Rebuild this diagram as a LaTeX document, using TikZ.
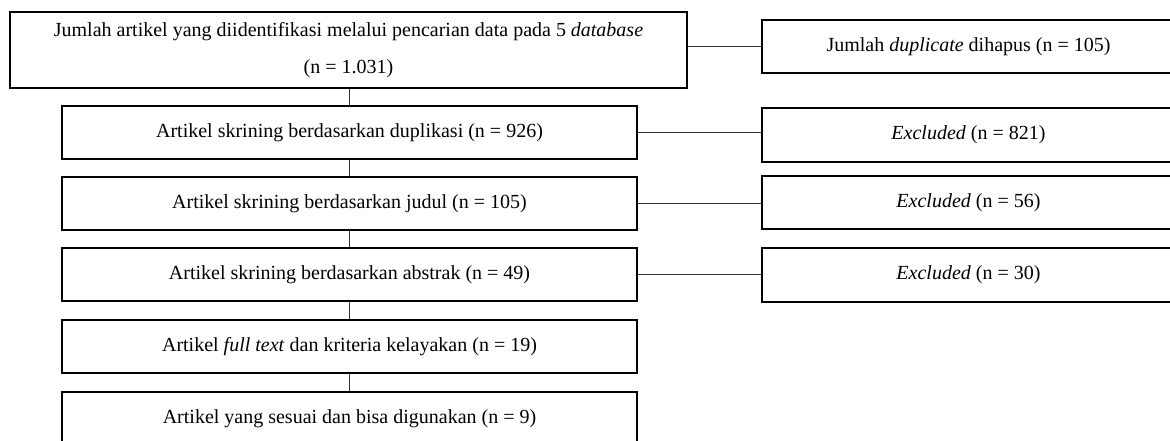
\documentclass[tikz,border=0pt]{standalone}
\usepackage{fontspec}
\setmainfont{Liberation Serif}
\begin{document}
\begin{tikzpicture}[x=0.75pt,y=-0.75pt,
  box/.style={draw=black,line width=1.6pt,rectangle,inner sep=0pt,
    font=\fontsize{15}{18}\selectfont,align=center},
  mainbox/.style={box,minimum width=431.25pt,minimum height=39.75pt},
  sidebox/.style={box,minimum width=309.75pt,minimum height=40pt},
  link/.style={draw=black!80,line width=0.8pt}]
\useasboundingbox (0,0) rectangle (1170,441);
\clip (0,0) rectangle (1170,441);
\node[box,minimum width=507.75pt,minimum height=57pt] (A) at (348.5,50)
  {Jumlah artikel yang diidentifikasi melalui pencarian data pada 5 \textit{database}\\[9.5pt](n = 1.031)};
\node[sidebox,minimum height=39.75pt] (B) at (968.5,46.5) {Jumlah \textit{duplicate} dihapus (n = 105)};
\node[mainbox] (C) at (349.5,132.5) {Artikel skrining berdasarkan duplikasi (n = 926)};
\node[mainbox] (D) at (349.5,203.5) {Artikel skrining berdasarkan judul (n = 105)};
\node[mainbox] (E) at (349.5,274.5) {Artikel skrining berdasarkan abstrak (n = 49)};
\node[mainbox] (F) at (349.5,346.5) {Artikel \textit{full text} dan kriteria kelayakan (n = 19)};
\node[mainbox] (G) at (349.5,418.5) {Artikel yang sesuai dan bisa digunakan (n = 9)};
\node[sidebox] (R1) at (968.5,135) {\textit{Excluded} (n = 821)};
\node[sidebox] (R2) at (968.5,202.5) {\textit{Excluded} (n = 56)};
\node[sidebox] (R3) at (968.5,275) {\textit{Excluded} (n = 30)};
\draw[link] (C.north |- A.south) -- (C.north);
\draw[link] (C.south) -- (D.north);
\draw[link] (D.south) -- (E.north);
\draw[link] (E.south) -- (F.north);
\draw[link] (F.south) -- (G.north);
\draw[link] (B.west -| A.east) -- (B.west);
\draw[link] (C.east) -- (C.east -| R1.west);
\draw[link] (D.east) -- (D.east -| R2.west);
\draw[link] (E.east) -- (E.east -| R3.west);
\end{tikzpicture}
\end{document}
